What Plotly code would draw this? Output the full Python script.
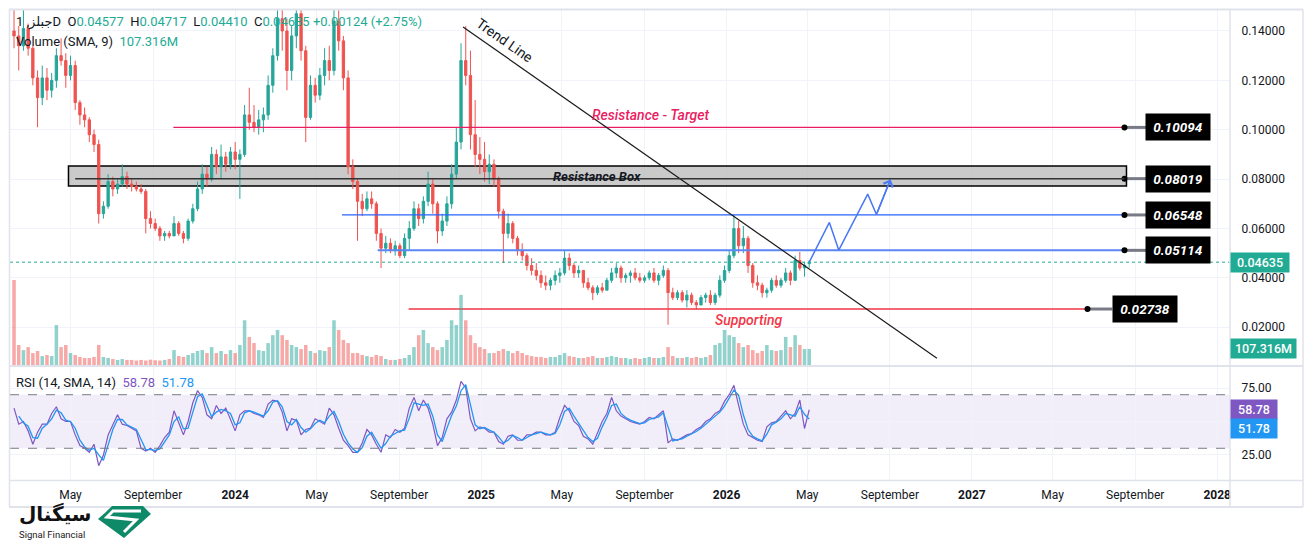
import plotly.graph_objects as go
import pandas as pd

# ---------------- data (weekly candles) ----------------
start_week = "2023-02-06"

opens = [0.140,0.138,0.134,0.141,0.133,0.121,0.113,0.121,0.116,0.120,
         0.130,0.128,0.122,0.126,0.111,0.106,0.104,0.098,0.094,0.066,
         0.069,0.079,0.076,0.078,0.081,0.078,0.077,0.076,0.075,0.064,
         0.062,0.060,0.057,0.058,0.057,0.062,0.058,0.056,0.063,0.068,
         0.076,0.082,0.080,0.090,0.085,0.089,0.086,0.091,0.088,0.090,
         0.106,0.103,0.101,0.104,0.106,0.118,0.130,0.145,0.140,0.124,
         0.138,0.147,0.132,0.105,0.118,0.114,0.122,0.128,0.124,0.144,
         0.136,0.121,0.085,0.079,0.071,0.068,0.072,0.070,0.058,0.052,
         0.054,0.051,0.053,0.049,0.056,0.060,0.068,0.064,0.071,0.078,
         0.070,0.059,0.063,0.070,0.082,0.095,0.128,0.122,0.098,0.090,
         0.088,0.083,0.086,0.080,0.067,0.058,0.062,0.056,0.051,0.049,
         0.045,0.043,0.041,0.038,0.037,0.039,0.041,0.042,0.048,0.045,
         0.042,0.043,0.038,0.036,0.034,0.036,0.035,0.039,0.042,0.044,
         0.040,0.041,0.042,0.040,0.039,0.040,0.042,0.039,0.041,0.043,
         0.034,0.032,0.034,0.031,0.033,0.030,0.029,0.032,0.033,0.030,
         0.033,0.039,0.043,0.049,0.060,0.053,0.056,0.045,0.038,0.037,
         0.034,0.035,0.039,0.037,0.039,0.042,0.039,0.047,0.044,0.04577]

highs = [0.152,0.142,0.150,0.143,0.134,0.124,0.126,0.125,0.123,0.133,
         0.137,0.131,0.130,0.128,0.112,0.109,0.105,0.100,0.096,0.071,
         0.082,0.081,0.080,0.086,0.083,0.080,0.079,0.078,0.076,0.067,
         0.064,0.061,0.059,0.059,0.065,0.063,0.059,0.064,0.070,0.079,
         0.086,0.085,0.093,0.092,0.094,0.091,0.093,0.095,0.092,0.110,
         0.117,0.110,0.108,0.109,0.122,0.133,0.150,0.155,0.145,0.142,
         0.155,0.152,0.134,0.122,0.121,0.125,0.133,0.134,0.150,0.152,
         0.138,0.124,0.088,0.080,0.074,0.075,0.075,0.071,0.060,0.057,
         0.056,0.055,0.054,0.058,0.063,0.071,0.070,0.073,0.083,0.080,
         0.071,0.066,0.073,0.086,0.101,0.135,0.142,0.132,0.112,0.097,
         0.095,0.090,0.088,0.081,0.068,0.066,0.063,0.057,0.054,0.050,
         0.048,0.046,0.043,0.041,0.040,0.043,0.044,0.051,0.050,0.046,
         0.045,0.043,0.040,0.037,0.037,0.038,0.040,0.044,0.046,0.045,
         0.042,0.043,0.044,0.042,0.041,0.043,0.044,0.042,0.045,0.044,
         0.036,0.035,0.035,0.035,0.034,0.031,0.033,0.034,0.035,0.034,
         0.041,0.045,0.051,0.0655,0.063,0.061,0.057,0.046,0.041,0.038,
         0.036,0.040,0.041,0.040,0.044,0.043,0.049,0.0505,0.0465,0.04717]

lows = [0.133,0.124,0.132,0.130,0.118,0.101,0.110,0.112,0.113,0.117,
        0.126,0.117,0.120,0.108,0.102,0.101,0.095,0.091,0.062,0.064,
        0.068,0.073,0.074,0.077,0.076,0.075,0.075,0.074,0.058,0.060,
        0.059,0.055,0.055,0.056,0.057,0.057,0.054,0.055,0.062,0.067,
        0.074,0.077,0.079,0.082,0.080,0.083,0.084,0.084,0.072,0.089,
        0.100,0.099,0.098,0.099,0.104,0.115,0.128,0.132,0.116,0.120,
        0.133,0.128,0.095,0.104,0.111,0.112,0.118,0.120,0.122,0.132,
        0.116,0.082,0.076,0.055,0.065,0.067,0.068,0.055,0.044,0.050,
        0.050,0.049,0.048,0.048,0.051,0.059,0.061,0.062,0.069,0.066,
        0.054,0.057,0.061,0.068,0.080,0.092,0.118,0.092,0.085,0.082,
        0.079,0.078,0.077,0.064,0.046,0.056,0.054,0.049,0.047,0.043,
        0.041,0.039,0.036,0.035,0.035,0.037,0.038,0.041,0.043,0.040,
        0.040,0.036,0.035,0.031,0.033,0.034,0.035,0.038,0.040,0.038,
        0.038,0.038,0.039,0.038,0.038,0.039,0.038,0.037,0.040,0.021,
        0.031,0.031,0.030,0.028,0.029,0.027,0.029,0.030,0.029,0.029,
        0.032,0.038,0.042,0.048,0.050,0.050,0.042,0.036,0.035,0.032,
        0.032,0.034,0.036,0.036,0.038,0.037,0.039,0.043,0.0405,0.04410]

closes = [0.138,0.134,0.141,0.133,0.121,0.113,0.121,0.116,0.120,0.130,
          0.128,0.122,0.126,0.111,0.106,0.104,0.098,0.094,0.066,0.069,
          0.079,0.076,0.078,0.081,0.078,0.077,0.076,0.075,0.064,0.062,
          0.060,0.057,0.058,0.057,0.062,0.058,0.056,0.063,0.068,0.076,
          0.082,0.080,0.090,0.085,0.089,0.086,0.091,0.088,0.090,0.106,
          0.103,0.101,0.104,0.106,0.118,0.130,0.145,0.140,0.124,0.138,
          0.147,0.132,0.105,0.118,0.114,0.122,0.128,0.124,0.144,0.136,
          0.121,0.085,0.079,0.071,0.068,0.072,0.070,0.058,0.052,0.054,
          0.051,0.053,0.049,0.056,0.060,0.068,0.064,0.071,0.078,0.070,
          0.059,0.063,0.070,0.082,0.095,0.128,0.122,0.098,0.090,0.088,
          0.083,0.086,0.080,0.067,0.058,0.062,0.056,0.051,0.049,0.045,
          0.043,0.041,0.038,0.037,0.039,0.041,0.042,0.048,0.045,0.042,
          0.043,0.038,0.036,0.034,0.036,0.035,0.039,0.042,0.044,0.040,
          0.041,0.042,0.040,0.039,0.040,0.042,0.039,0.041,0.043,0.034,
          0.032,0.034,0.031,0.033,0.030,0.029,0.032,0.033,0.030,0.033,
          0.039,0.043,0.049,0.060,0.053,0.056,0.045,0.038,0.037,0.034,
          0.035,0.039,0.037,0.039,0.042,0.039,0.047,0.044,0.04511,0.04635]

volumes_m = [570,134,100,120,80,94,60,67,60,268,
             120,134,80,67,54,47,47,54,134,54,
             47,40,34,40,34,34,30,34,30,36,
             32,30,34,40,100,60,54,67,80,94,
             100,80,120,80,94,74,100,80,134,300,
             188,147,100,94,147,200,235,200,168,134,
             120,107,134,94,80,100,94,120,300,235,
             168,147,80,80,67,60,54,67,60,40,
             34,34,40,47,67,120,200,235,147,120,
             100,120,168,300,268,470,300,200,147,120,
             107,80,80,94,107,94,80,94,80,67,
             60,54,54,47,54,54,67,80,60,54,
             47,47,54,60,47,47,54,60,54,47,
             47,40,47,40,47,54,47,47,54,120,
             60,47,47,54,47,54,47,54,67,134,
             147,235,200,188,147,120,134,100,80,94,
             134,100,94,100,188,120,200,134,107,107.316]

rsi = [60,48,50,43,33,42,48,48,56,61,
       52,50,50,40,32,30,27,33,17,25,
       40,48,55,48,47,45,43,30,28,30,
       27,32,38,42,58,49,40,50,64,73,
       68,55,52,62,56,60,52,43,55,58,
       58,56,55,53,63,66,65,57,43,52,
       51,40,44,45,52,50,48,60,55,45,
       36,32,27,27,34,44,40,33,27,40,
       38,44,42,45,60,68,58,66,60,48,
       32,38,52,57,66,80,75,52,43,46,
       45,42,42,35,33,39,40,36,36,40,
       40,42,42,40,40,42,53,62,58,50,
       47,39,37,33,42,50,56,68,58,54,
       52,50,49,48,50,53,52,55,58,34,
       37,36,38,40,41,44,46,50,52,56,
       58,65,70,77,62,48,40,38,36,35,
       46,49,50,54,58,52,56,66,44.78,58.78]

price_ticks = [0.02, 0.04, 0.06, 0.08, 0.10, 0.12, 0.14]
rsi_ticks = [25, 50, 75]
rsi_tick_text = ["25.00", "", "75.00"]
x_tick_dates = ["2023-05-01", "2023-09-01", "2024-01-01", "2024-05-01", "2024-09-01",
                "2025-01-01", "2025-05-01", "2025-09-01", "2026-01-01", "2026-05-01",
                "2026-09-01", "2027-01-01", "2027-05-01", "2027-09-01", "2028-01-01"]
x_tick_text = ["May", "September", "<b>2024</b>", "May", "September",
               "<b>2025</b>", "May", "September", "<b>2026</b>", "May",
               "September", "<b>2027</b>", "May", "September", "<b>2028</b>"]

# drawing levels
level_target = 0.10094
level_box = 0.08019
box_low, box_high = 0.0772, 0.0853
level_r2 = 0.06548
level_r1 = 0.05114
level_support = 0.02738
last_price = 0.04635
last_volume = 107.316
rsi_last, rsi_sma_last = 58.78, 51.78

trend_dates = ["2024-12-05", "2026-11-10"]
trend_prices = [0.1416, 0.0074]
proj_dates = ["2026-05-04", "2026-06-03", "2026-06-17", "2026-07-30", "2026-08-12", "2026-09-02"]
proj_prices = [0.04635, 0.06244, 0.05121, 0.07392, 0.06569, 0.07988]

# ---------------- figure ----------------
dates = pd.date_range(start_week, periods=len(closes), freq="7D")
UP, DOWN = "#26a69a", "#ef5350"
vol_colors = ["rgba(38,166,154,0.5)" if c >= o else "rgba(239,83,80,0.5)" for o, c in zip(opens, closes)]
rsi_sma = pd.Series(rsi).rolling(2).mean()

FONT = "Roboto, DejaVu Sans, sans-serif"
TXT = "#131722"

# page offset (browser body margin) is 8px; plot area in page pixels:
PAGE_OFF = 8
PL, PR, PT, PB = 10, 1230, 10, 480
W, H = 1313 - PAGE_OFF, 544 - PAGE_OFF
ML, MT = PL - PAGE_OFF, PT - PAGE_OFF
MR = W - (PR - PAGE_OFF)
MB = H - (PB - PAGE_OFF)
PW, PH = PR - PL, PB - PT


def px(xp):
    return (xp - PL) / PW


def py(yp):
    return (PB - yp) / PH


fig = go.Figure()

fig.add_trace(go.Candlestick(
    x=dates, open=opens, high=highs, low=lows, close=closes,
    increasing=dict(line=dict(color=UP, width=1), fillcolor=UP),
    decreasing=dict(line=dict(color=DOWN, width=1), fillcolor=DOWN),
    whiskerwidth=0, xaxis="x", yaxis="y", hoverinfo="skip"))

fig.add_trace(go.Bar(x=dates, y=volumes_m, marker=dict(color=vol_colors, line=dict(width=0)),
                     xaxis="x", yaxis="y3", hoverinfo="skip"))

fig.add_trace(go.Scatter(x=dates, y=rsi, mode="lines", line=dict(color="#7e57c2", width=1.2),
                         xaxis="x", yaxis="y2", hoverinfo="skip"))
fig.add_trace(go.Scatter(x=dates, y=rsi_sma, mode="lines", line=dict(color="#2196f3", width=1.3),
                         xaxis="x", yaxis="y2", hoverinfo="skip"))


def hline(x0, x1, y, color, width):
    fig.add_trace(go.Scatter(x=[x0, x1], y=[y, y], mode="lines", line=dict(color=color, width=width),
                             xaxis="x", yaxis="y", hoverinfo="skip"))


hline("2023-10-01", "2027-08-16", level_target, "#e91e63", 1.3)
hline("2024-06-08", "2027-08-16", level_r2, "#2962ff", 1.3)
hline("2024-07-31", "2027-08-16", level_r1, "#5b86f5", 2)
hline("2024-09-15", "2027-06-22", level_support, "#f23645", 1.3)

for lvl, d0, d1 in [(level_target, "2027-08-16", "2027-09-18"), (level_box, "2027-08-16", "2027-09-18"),
                    (level_r2, "2027-08-16", "2027-09-18"), (level_r1, "2027-08-16", "2027-09-18"),
                    (level_support, "2027-06-22", "2027-07-29")]:
    fig.add_trace(go.Scatter(x=[d0, d1], y=[lvl, lvl], mode="lines", line=dict(color="#787b86", width=3),
                             xaxis="x", yaxis="y", hoverinfo="skip"))
    fig.add_trace(go.Scatter(x=[d0], y=[lvl], mode="markers", marker=dict(color="black", size=6),
                             xaxis="x", yaxis="y", hoverinfo="skip"))

fig.add_trace(go.Scatter(x=trend_dates, y=trend_prices, mode="lines", line=dict(color="#1a1a1a", width=1.2),
                         xaxis="x", yaxis="y", hoverinfo="skip"))
fig.add_trace(go.Scatter(x=proj_dates, y=proj_prices, mode="lines", line=dict(color="#4a78f5", width=1.5),
                         xaxis="x", yaxis="y", hoverinfo="skip"))

shapes = [
    dict(type="rect", xref="x", yref="y", x0="2023-04-28", x1="2027-08-19", y0=box_low, y1=box_high,
         fillcolor="rgba(180,180,180,0.7)", line=dict(color="black", width=1.5), layer="between"),
    dict(type="line", xref="x", yref="y", x0="2023-05-08", x1="2027-08-16", y0=level_box, y1=level_box,
         line=dict(color="#333333", width=1.5)),
    dict(type="line", xref="x domain", yref="y", x0=0, x1=1, y0=last_price, y1=last_price,
         line=dict(color="#22ab94", width=1, dash="dot")),
    dict(type="rect", xref="x domain", yref="y2", x0=0, x1=1, y0=30, y1=70,
         fillcolor="rgba(126,87,194,0.10)", line=dict(width=0), layer="below"),
    dict(type="line", xref="x domain", yref="y2", x0=0, x1=1, y0=70, y1=70,
         line=dict(color="#787b86", width=1, dash="dash")),
    dict(type="line", xref="x domain", yref="y2", x0=0, x1=1, y0=30, y1=30,
         line=dict(color="#787b86", width=1, dash="dash")),
    dict(type="line", xref="paper", yref="paper", x0=0, x1=px(1303), y0=py(366), y1=py(366),
         line=dict(color="#e0e3eb", width=2)),
    dict(type="line", xref="paper", yref="paper", x0=0, x1=px(1303), y0=py(480.5), y1=py(480.5),
         line=dict(color="#e0e3eb", width=1.5)),
    dict(type="line", xref="paper", yref="paper", x0=px(9), x1=px(1303), y0=py(507), y1=py(507),
         line=dict(color="#e0e3eb", width=2)),
    dict(type="line", xref="paper", yref="paper", x0=px(9), x1=px(1303), y0=py(9.5), y1=py(9.5),
         line=dict(color="#e0e3eb", width=2)),
    dict(type="line", xref="paper", yref="paper", x0=1, x1=1, y0=py(9.5), y1=py(507),
         line=dict(color="#e0e3eb", width=1.5)),
    dict(type="line", xref="paper", yref="paper", x0=px(9.5), x1=px(9.5), y0=py(9.5), y1=py(507),
         line=dict(color="#e0e3eb", width=1.5)),
    dict(type="line", xref="paper", yref="paper", x0=px(1303), x1=px(1303), y0=py(9.5), y1=py(507),
         line=dict(color="#e0e3eb", width=1.5)),
]


def poly(points, close=True):
    p = "M " + " L ".join(f"{px(a):.5f},{py(b):.5f}" for a, b in points)
    return p + (" Z" if close else "")


shapes.append(dict(type="path", xref="paper", yref="paper",
                   path=poly([(112, 506), (143, 506), (151, 514), (124, 538), (98, 519), (106, 512)]),
                   fillcolor="#0f8a68", line=dict(width=0)))
shapes.append(dict(type="path", xref="paper", yref="paper",
                   path=poly([(141, 511), (113, 511), (107, 517), (136, 520), (124, 532)], close=False),
                   line=dict(color="white", width=3)))

ann = []
ann.append(dict(xref="paper", yref="paper", x=px(14), y=py(22), xanchor="left", yanchor="middle", showarrow=False,
                text=("جبلز, 1D&nbsp;&nbsp;O<span style='color:#22ab94'>0.04577</span>&nbsp;&nbsp;"
                      "H<span style='color:#22ab94'>0.04717</span>&nbsp;&nbsp;L<span style='color:#22ab94'>0.04410</span>"
                      "&nbsp;&nbsp;C<span style='color:#22ab94'>0.04635</span>&nbsp;<span style='color:#22ab94'>+0.00124 (+2.75%)</span>"),
                font=dict(family=FONT, size=13, color=TXT)))
ann.append(dict(xref="paper", yref="paper", x=px(14), y=py(42), xanchor="left", yanchor="middle", showarrow=False,
                text="Volume (SMA, 9)&nbsp;&nbsp;<span style='color:#22ab94'>107.316M</span>",
                font=dict(family=FONT, size=13, color=TXT)))
ann.append(dict(xref="paper", yref="paper", x=px(14), y=py(382), xanchor="left", yanchor="middle", showarrow=False,
                text=("RSI (14, SMA, 14)&nbsp;&nbsp;<span style='color:#7e57c2'>58.78</span>"
                      "&nbsp;&nbsp;<span style='color:#2196f3'>51.78</span>"),
                font=dict(family=FONT, size=13, color=TXT)))

ann.append(dict(x="2025-09-10", y=0.1059, xref="x", yref="y", showarrow=False, text="Resistance - Target",
                xanchor="center", font=dict(family=FONT, size=14, color="#e91e63", style="italic", weight=500)))
ann.append(dict(x="2025-06-22", y=0.0812, xref="x", yref="y", showarrow=False, text="Resistance Box",
                xanchor="center", font=dict(family=FONT, size=13, color="#131722", style="italic", weight="bold")))
ann.append(dict(x="2026-02-03", y=0.0229, xref="x", yref="y", showarrow=False, text="Supporting",
                xanchor="center", font=dict(family=FONT, size=14, color="#f23645", style="italic", weight=500)))
ann.append(dict(x="2025-02-04", y=0.1362, xref="x", yref="y", showarrow=False, text="Trend Line", textangle=35,
                xanchor="center", font=dict(family=FONT, size=14, color="#131722")))

for lvl, cx in [(level_target, 1178), (level_box, 1178), (level_r2, 1178), (level_r1, 1178), (level_support, 1145)]:
    ann.append(dict(xref="paper", yref="y", x=px(cx), y=lvl, xanchor="center", yanchor="middle",
                    showarrow=False, text=f"{lvl:.5f}",
                    bgcolor="black", borderpad=4, width=56, height=18,
                    font=dict(family=FONT, size=13.5, color="white", style="italic", weight="bold")))

ann.append(dict(xref="paper", yref="y", x=1.0, y=last_price, xanchor="left", showarrow=False, text=f"{last_price:.5f}",
                bgcolor="#22ab94", borderpad=2, width=54, font=dict(family=FONT, size=12.5, color="white", weight=500)))
ann.append(dict(xref="paper", yref="y3", x=1.0, y=last_volume, xanchor="left", showarrow=False, text="107.316M",
                bgcolor="#22ab94", borderpad=2, width=61, font=dict(family=FONT, size=12.5, color="white", weight=500)))
ann.append(dict(xref="paper", yref="y2", x=1.0, y=rsi_last, xanchor="left", showarrow=False, text=f"{rsi_last:.2f}",
                bgcolor="#7e57c2", borderpad=2, width=42, font=dict(family=FONT, size=12.5, color="white", weight=500)))
ann.append(dict(xref="paper", yref="y2", x=1.0, y=rsi_sma_last, yshift=-9, xanchor="left", showarrow=False,
                text=f"{rsi_sma_last:.2f}", bgcolor="#2196f3", borderpad=2, width=42,
                font=dict(family=FONT, size=12.5, color="white", weight=500)))

ann.append(dict(x=proj_dates[-1], y=proj_prices[-1], ax=proj_dates[-2], ay=proj_prices[-2],
                xref="x", yref="y", axref="x", ayref="y", showarrow=True, arrowhead=4, arrowsize=1.3,
                arrowwidth=1.5, arrowcolor="#4a78f5", text="", standoff=0))

ann.append(dict(xref="paper", yref="paper", x=px(17), y=py(514), xanchor="left", yanchor="middle", showarrow=False,
                text="<b>سیگنال</b>", font=dict(family="DejaVu Sans", size=20, color="#111111")))
ann.append(dict(xref="paper", yref="paper", x=px(17), y=py(534), xanchor="left", yanchor="middle", showarrow=False,
                text="Signal Financial", font=dict(family=FONT, size=9.5, color="#222222")))

fig.update_layout(
    width=W, height=H, margin=dict(l=ML, r=MR, t=MT, b=MB),
    paper_bgcolor="white", plot_bgcolor="white", showlegend=False,
    shapes=shapes, annotations=ann, bargap=0.25,
    xaxis=dict(type="date", domain=[0, 1], anchor="y2", range=["2023-01-31", "2028-01-20"],
               tickvals=x_tick_dates, ticktext=x_tick_text, showgrid=True, gridcolor="#f0f3fa",
               rangeslider=dict(visible=False), zeroline=False, showline=False, ticks="",
               ticklabelstandoff=6, tickfont=dict(family=FONT, size=12, color=TXT)),
    yaxis=dict(domain=[(PB - 365) / PH, 1], side="right", anchor="x", range=[0.0047, 0.1485],
               tickvals=price_ticks, tickformat=".5f", showgrid=True, gridcolor="#f0f3fa",
               zeroline=False, ticks="outside", ticklen=8, tickcolor="rgba(0,0,0,0)",
               tickfont=dict(family=FONT, size=12, color=TXT)),
    yaxis2=dict(domain=[0, (PB - 367) / PH], side="right", anchor="x", range=[6.3, 90.7],
                tickvals=rsi_ticks, ticktext=rsi_tick_text, showgrid=True, gridcolor="#f0f3fa",
                zeroline=False, ticks="outside", ticklen=8, tickcolor="rgba(0,0,0,0)",
                tickfont=dict(family=FONT, size=12, color=TXT)),
    yaxis3=dict(overlaying="y", range=[0, 2380], visible=False, anchor="x"),
)

fig.write_html("out.html")
